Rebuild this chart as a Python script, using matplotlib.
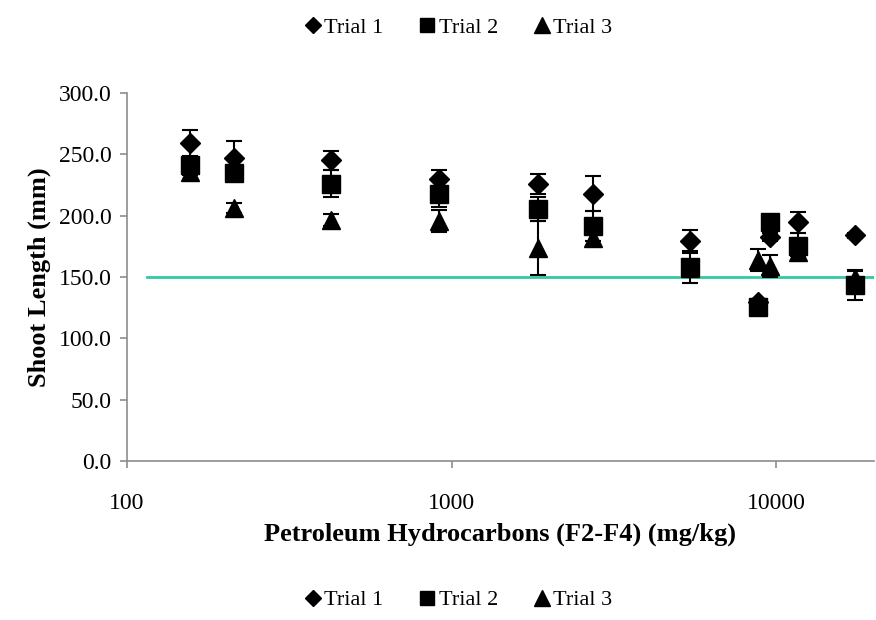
import matplotlib
matplotlib.use("Agg")
import matplotlib.pyplot as plt
from matplotlib.lines import Line2D
import numpy as np

# PHC concentration (mg/kg) for each soil
phc = [156, 213, 424, 915, 1840, 2720, 5430, 8800, 9550, 11660, 17500]

trial1 = [259.5, 247.0, 245.0, 230.0, 226.0, 218.0, 179.0, 130.0, 182.5, 194.5, 184.0]
trial1_err = [10.5, 13.5, 7.5, 7.0, 8.0, 14.0, 9.5, 2.0, 3.0, 8.5, 2.0]

trial2 = [241.0, 234.5, 226.0, 218.0, 205.5, 191.5, 158.0, 125.5, 195.0, 175.0, 143.5]
trial2_err = [3.0, 3.0, 11.0, 11.0, 10.0, 12.0, 13.0, 2.0, 3.0, 11.0, 12.0]

trial3 = [236.0, 206.0, 196.5, 196.0, 174.0, 182.0, 157.0, 164.0, 159.0, 170.0, 149.0]
trial3_err = [3.0, 4.0, 5.0, 9.0, 22.0, 7.0, 3.0, 9.0, 9.0, 3.0, 6.0]

# reference line
ref_x = [115, 20000]
ref_y = [150.0, 150.0]

series_names = ["Trial 1", "Trial 2", "Trial 3"]

plt.rcParams["font.family"] = ["Liberation Serif", "DejaVu Serif"]

fig = plt.figure(figsize=(8.76, 6.20), dpi=100)
ax = fig.add_axes([127 / 876, 1 - 461 / 620, 747 / 876, 368 / 620])

ax.plot(ref_x, ref_y, color="#33c9a4", lw=2.0, zorder=1)

styles = [("D", 10.0), ("s", 12.5), ("^", 13.5)]
for (mk, ms), y, e in zip(styles, [trial1, trial2, trial3],
                          [trial1_err, trial2_err, trial3_err]):
    ax.errorbar(phc, y, yerr=e, fmt=mk, ms=ms, color="black", mec="black",
                mfc="black", ecolor="black", elinewidth=1.5, capsize=6,
                capthick=1.5, zorder=3)

ax.set_xscale("log")
ax.set_xlim(100, 20000)
ax.set_ylim(0, 300)
ax.set_yticks(np.arange(0, 301, 50))
ax.set_yticklabels([f"{v:.1f}" for v in np.arange(0, 301, 50)])
ax.set_xticks([100, 1000, 10000])
ax.set_xticklabels(["100", "1000", "10000"])
ax.xaxis.set_minor_locator(matplotlib.ticker.NullLocator())

for s in ["top", "right"]:
    ax.spines[s].set_visible(False)
for s in ["left", "bottom"]:
    ax.spines[s].set_color("#8c8c8c")
    ax.spines[s].set_linewidth(1.2)
ax.tick_params(axis="both", colors="#8c8c8c", length=5, width=1.2,
               labelcolor="black", labelsize=17, direction="out")
ax.tick_params(axis="x", pad=18)
ax.tick_params(axis="y", pad=6)

ax.set_xlabel("Petroleum Hydrocarbons (F2-F4) (mg/kg)", fontsize=19,
              fontweight="bold", labelpad=6)
ax.set_ylabel("Shoot Length (mm)", fontsize=19, fontweight="bold", labelpad=6)

handles = [Line2D([], [], ls="none", marker=m, ms=s * 0.85, color="black")
           for m, s in styles]
for yy in [1 - 28 / 620, 1 - 600 / 620]:
    fig.legend(handles, series_names, loc="center", bbox_to_anchor=(457 / 876, yy),
               ncol=3, frameon=False, fontsize=16, handletextpad=0.0,
               columnspacing=1.5, handlelength=1.0)

fig.savefig("out.png", dpi=100)
